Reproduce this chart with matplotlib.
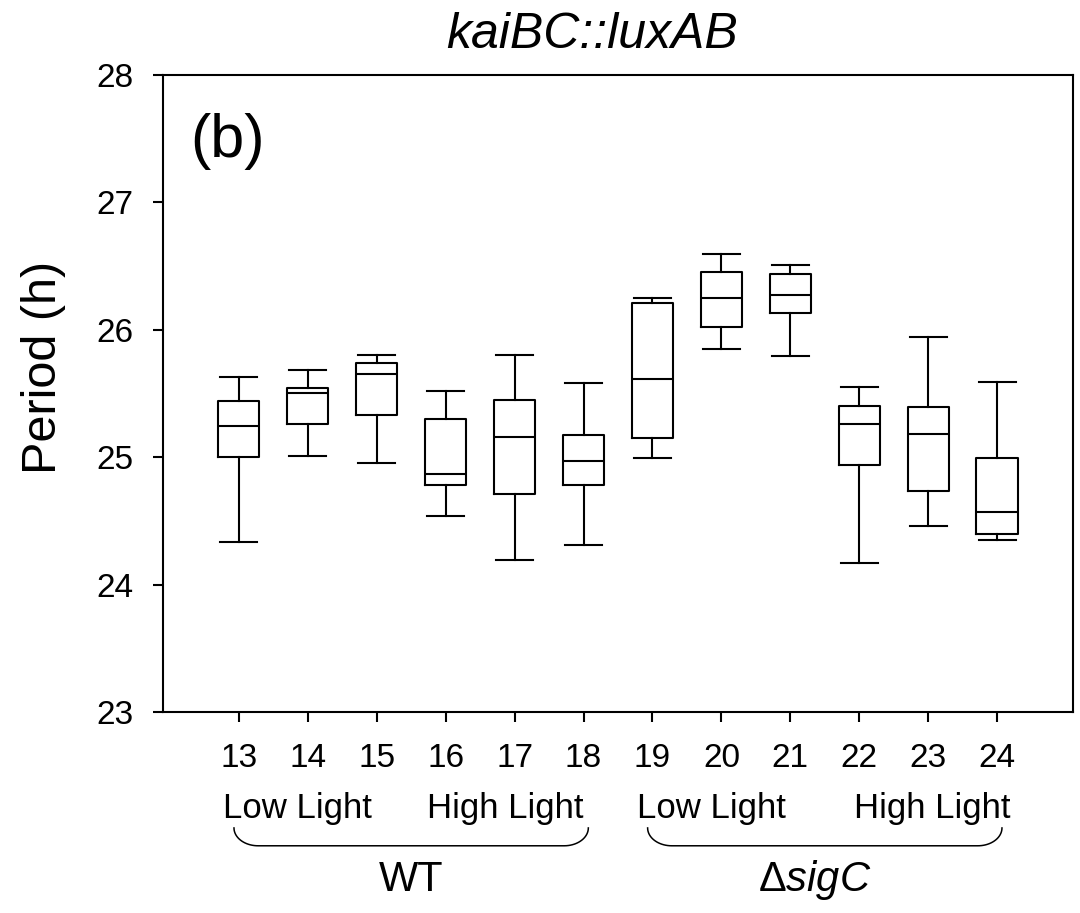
import matplotlib
matplotlib.use('Agg')
import matplotlib.pyplot as plt
import numpy as np

plt.rcParams['font.family'] = ['Liberation Sans', 'DejaVu Sans']
plt.rcParams['mathtext.fontset'] = 'custom'
plt.rcParams['mathtext.rm'] = 'Liberation Sans'
plt.rcParams['mathtext.it'] = 'Liberation Sans:italic'

# lane numbers and box summary values (period in hours)
lanes = [13, 14, 15, 16, 17, 18, 19, 20, 21, 22, 23, 24]
whis_hi = [25.63, 25.68, 25.80, 25.52, 25.80, 25.58, 26.25, 26.59, 26.51, 25.55, 25.94, 25.59]
q3 = [25.44, 25.54, 25.74, 25.30, 25.45, 25.17, 26.21, 26.45, 26.44, 25.40, 25.39, 24.99]
med = [25.24, 25.50, 25.65, 24.87, 25.16, 24.97, 25.61, 26.25, 26.27, 25.26, 25.18, 24.57]
q1 = [25.00, 25.26, 25.33, 24.78, 24.71, 24.78, 25.15, 26.02, 26.13, 24.94, 24.73, 24.40]
whis_lo = [24.33, 25.01, 24.95, 24.54, 24.19, 24.31, 24.99, 25.85, 25.79, 24.17, 24.46, 24.35]

groups = ['WT', r'$\Delta\mathit{sigC}$']
group_lanes = [lanes[:6], lanes[6:]]
light_labels = ['Low Light', 'High Light']

stats = []
for i in range(len(lanes)):
    stats.append(dict(med=med[i], q1=q1[i], q3=q3[i],
                      whislo=whis_lo[i], whishi=whis_hi[i], fliers=[]))

fig = plt.figure(figsize=(10.8, 9.13), dpi=100)
ax = fig.add_axes([0.1509, 0.2202, 0.8426, 0.698])

lw = 1.5
ax.bxp(stats, positions=lanes, widths=0.6, capwidths=0.54, showfliers=False,
       boxprops=dict(color='black', linewidth=lw),
       medianprops=dict(color='black', linewidth=lw),
       whiskerprops=dict(color='black', linewidth=lw),
       capprops=dict(color='black', linewidth=lw))

ax.set_xlim(11.9, 25.1)
ax.set_ylim(23, 28)
ax.set_yticks([23, 24, 25, 26, 27, 28])
ax.set_xticks(lanes)
ax.set_xticklabels([str(l) for l in lanes])
for s in ax.spines.values():
    s.set_linewidth(lw)
ax.tick_params(direction='out', length=7, width=lw, labelsize=24)
ax.tick_params(axis='y', pad=14)
ax.tick_params(axis='x', pad=15)
ax.set_ylabel('Period (h)', fontsize=35, labelpad=22, y=0.54)
fig.text(0.548, 0.962, 'kaiBC::luxAB', fontsize=36, fontstyle='italic',
         ha='center', va='center')

ax.text(0.03, 0.94, '(b)', transform=ax.transAxes, fontsize=44,
        ha='left', va='top')

trans = ax.get_xaxis_transform()
high_right = [18.0, 24.2]
for g, gl, hr in zip(groups, group_lanes, high_right):
    ax.text(gl[0] - 0.23, -0.151, light_labels[0], transform=trans, fontsize=25,
            ha='left', va='center', clip_on=False)
    ax.text(hr, -0.151, light_labels[1], transform=trans, fontsize=25,
            ha='right', va='center', clip_on=False)
    # curly bracket below the light labels
    x0, x1 = gl[0] - 0.07, gl[-1] + 0.07
    r = 0.35
    ytop, ybot = -0.182, -0.210
    t = np.linspace(0, np.pi / 2, 20)
    xl = x0 + r * (1 - np.cos(t))
    yl = ybot + (ytop - ybot) * (1 - np.sin(t))
    xs = np.concatenate([[x0], xl, (x0 + x1 - xl)[::-1], [x1]])
    ys = np.concatenate([[ytop], yl, yl[::-1], [ytop]])
    ax.plot(xs, ys, color='black', linewidth=1.1, transform=trans, clip_on=False)

ax.text(15.5, -0.263, groups[0], transform=trans, fontsize=30,
        ha='center', va='center', clip_on=False)
ax.text(21.35, -0.263, groups[1], transform=trans, fontsize=30,
        ha='center', va='center', clip_on=False)

fig.savefig('out.png', dpi=100)
